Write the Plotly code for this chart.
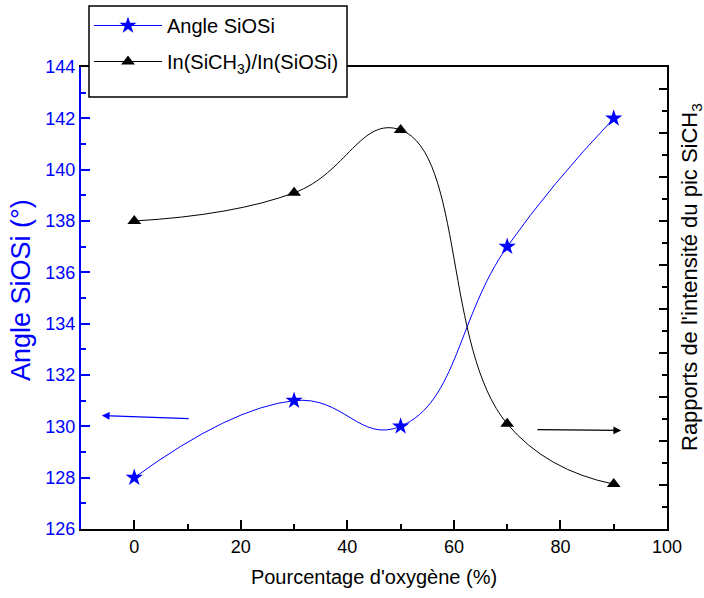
import plotly.graph_objects as go

# Oxygen percentage in the gas mixture
oxygen_pct = [0, 30, 50, 70, 90]

# Si-O-Si bond angle (degrees), left axis
angle_siosi = [128.0, 131.0, 130.0, 137.0, 142.0]

# Intensity ratio In(SiCH3)/In(SiOSi), right axis (unlabelled scale)
ratio_sich3 = [0.700, 0.764, 0.907, 0.239, 0.102]

# Axis settings
x_range = [-10, 100]
x_ticks = [0, 20, 40, 60, 80, 100]
y_range = [126, 144]
y_ticks = [126, 128, 130, 132, 134, 136, 138, 140, 142, 144]
y2_range = [0, 1.05]

BLUE = "#0000ff"
FONT = "Arial, Liberation Sans, sans-serif"

# Plot area in pixels, used to place paper-referenced items
W, H = 704, 598
L, R, T, B = 81, 37, 67, 69
PW, PH = W - L - R, H - T - B


def px(xp):
    return (xp - L) / PW


def py(yp):
    return (H - B - yp) / PH


fig = go.Figure()

fig.add_trace(go.Scatter(
    x=oxygen_pct, y=angle_siosi, name="Angle SiOSi",
    mode="lines+markers",
    line=dict(color=BLUE, width=1, shape="spline", smoothing=1.3),
    marker=dict(symbol="star", size=13, color=BLUE, line=dict(width=0)),
    legendgroup="a",
))

fig.add_trace(go.Scatter(
    x=oxygen_pct, y=ratio_sich3, name="In(SiCH<sub>3</sub>)/In(SiOSi)",
    mode="lines+markers", yaxis="y2",
    line=dict(color="black", width=1, shape="spline", smoothing=1.3),
    marker=dict(symbol="triangle-up", size=12, color="black", line=dict(width=0)),
    legendgroup="b",
))

# Arrows pointing each curve to its axis
fig.add_annotation(x=-6.1, y=130.42, ax=10.5, ay=130.3,
                   xref="x", yref="y", axref="x", ayref="y",
                   text="", showarrow=True, arrowhead=2, arrowsize=1.2,
                   arrowwidth=1.3, arrowcolor=BLUE)
fig.add_annotation(x=91.4, y=129.84, ax=75.4, ay=129.87,
                   xref="x", yref="y", axref="x", ayref="y",
                   text="", showarrow=True, arrowhead=2, arrowsize=1.2,
                   arrowwidth=1.3, arrowcolor="black")

# Vertical axis titles
fig.add_annotation(x=px(21), y=py(290), xref="paper", yref="paper",
                   text="Angle SiOSi (°)", textangle=-90, showarrow=False,
                   xanchor="center", yanchor="middle",
                   font=dict(size=27, color=BLUE))
fig.add_annotation(x=px(691), y=py(277), xref="paper", yref="paper",
                   text="Rapports de l'intensité du pic SiCH<sub>3</sub>",
                   textangle=-90, showarrow=False,
                   xanchor="center", yanchor="middle",
                   font=dict(size=22, color="black"))

# Legend frame
fig.add_shape(type="rect", xref="paper", yref="paper",
              x0=px(89), x1=px(347), y0=py(97), y1=py(6),
              fillcolor="white", line=dict(color="black", width=1.5),
              layer="above")

fig.update_layout(
    width=W, height=H,
    margin=dict(l=L, r=R, t=T, b=B, autoexpand=False),
    paper_bgcolor="white", plot_bgcolor="white",
    font=dict(family=FONT, size=18, color="black"),
    showlegend=True,
    legend=dict(
        x=px(89), y=py(6), xanchor="left", yanchor="top",
        bgcolor="rgba(0,0,0,0)", borderwidth=0,
        font=dict(size=20, color="black"),
        traceorder="grouped", tracegroupgap=7,
        itemwidth=68,
    ),
    xaxis=dict(
        range=x_range, tickvals=x_ticks,
        showgrid=False, zeroline=False,
        showline=True, linecolor="black", linewidth=2, mirror=True,
        ticks="inside", ticklen=9, tickwidth=1.5, tickcolor="black",
        minor=dict(dtick=10, ticks="inside", ticklen=5, tickwidth=1.5, tickcolor="black"),
        tickfont=dict(size=18, color="black"),
        title=dict(text="Pourcentage d'oxygène (%)", font=dict(size=20, color="black"), standoff=14),
    ),
    yaxis=dict(
        range=y_range, tickvals=y_ticks,
        showgrid=False, zeroline=False,
        showline=True, linecolor=BLUE, linewidth=2,
        ticks="inside", ticklen=9, tickwidth=1.5, tickcolor=BLUE,
        minor=dict(dtick=1, ticks="inside", ticklen=5, tickwidth=1.5, tickcolor=BLUE),
        tickfont=dict(size=18, color=BLUE),
    ),
    yaxis2=dict(
        range=y2_range, overlaying="y", side="right",
        dtick=0.1, showticklabels=False,
        showgrid=False, zeroline=False,
        showline=True, linecolor="black", linewidth=2,
        ticks="inside", ticklen=8, tickwidth=1.5, tickcolor="black",
        minor=dict(dtick=0.05, ticks="inside", ticklen=5, tickwidth=1.5, tickcolor="black"),
    ),
)

fig.write_html("out.html")
